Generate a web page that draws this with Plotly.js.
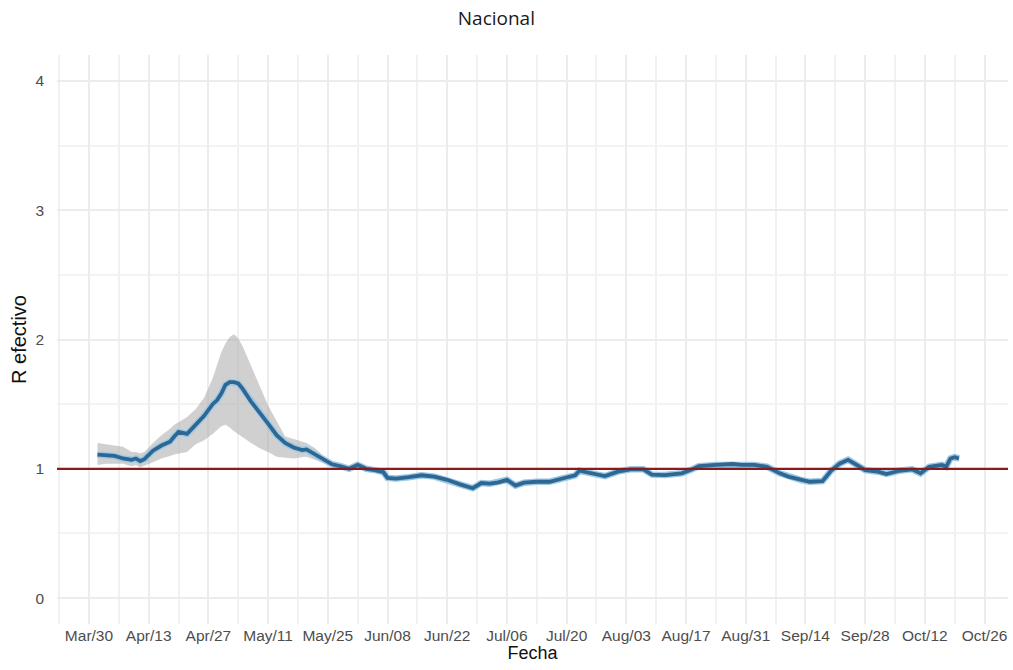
<!DOCTYPE html>
<html>
<head>
<meta charset="utf-8">
<script src="https://cdn.plot.ly/plotly-3.0.1.min.js"></script>
<style>
  html, body { margin: 0; padding: 0; background: #ffffff; }
  #chart { width: 1013px; height: 670px; }
</style>
</head>
<body>
<div id="chart"></div>
<script>
// ---- Data ----
const fechas = [
  '2020-04-01','2020-04-03','2020-04-05','2020-04-07','2020-04-09','2020-04-10','2020-04-11','2020-04-12',
  '2020-04-14','2020-04-16','2020-04-18','2020-04-19','2020-04-20','2020-04-22','2020-04-24','2020-04-26',
  '2020-04-28','2020-04-29','2020-04-30','2020-05-01','2020-05-02','2020-05-03','2020-05-04','2020-05-05',
  '2020-05-07','2020-05-09','2020-05-11','2020-05-13','2020-05-15','2020-05-17','2020-05-19','2020-05-20',
  '2020-05-22','2020-05-24','2020-05-26','2020-05-28',
  '2020-05-30','2020-06-01','2020-06-03','2020-06-05','2020-06-07','2020-06-08','2020-06-10','2020-06-13',
  '2020-06-16','2020-06-19','2020-06-22','2020-06-25','2020-06-28','2020-06-30','2020-07-02','2020-07-04',
  '2020-07-06','2020-07-08','2020-07-10','2020-07-13','2020-07-16','2020-07-19','2020-07-22','2020-07-23',
  '2020-07-26','2020-07-29','2020-08-01','2020-08-04','2020-08-07','2020-08-09','2020-08-12','2020-08-16',
  '2020-08-18','2020-08-20','2020-08-24','2020-08-28','2020-08-30','2020-09-02','2020-09-05','2020-09-08',
  '2020-09-10','2020-09-13','2020-09-15','2020-09-18','2020-09-20','2020-09-22','2020-09-24','2020-09-26',
  '2020-09-28','2020-10-01','2020-10-03','2020-10-06','2020-10-09','2020-10-11','2020-10-13','2020-10-16',
  '2020-10-17','2020-10-18','2020-10-19','2020-10-20'
];

const rEfectivo = [
  1.11,1.105,1.10,1.08,1.07,1.08,1.06,1.075,
  1.14,1.18,1.21,1.25,1.285,1.27,1.34,1.41,
  1.50,1.53,1.58,1.65,1.67,1.67,1.66,1.62,
  1.52,1.44,1.35,1.26,1.20,1.165,1.145,1.15,
  1.11,1.075,1.035,1.02,
  1.00,1.03,1.00,0.99,0.975,0.93,0.925,0.935,
  0.95,0.94,0.915,0.88,0.85,0.89,0.885,0.895,
  0.915,0.87,0.893,0.90,0.90,0.925,0.95,0.985,
  0.965,0.944,0.978,0.996,0.996,0.955,0.952,0.965,
  0.99,1.02,1.03,1.037,1.03,1.03,1.016,0.965,
  0.94,0.913,0.90,0.905,0.985,1.04,1.07,1.03,
  0.99,0.978,0.96,0.985,0.996,0.965,1.016,1.03,
  1.016,1.08,1.09,1.08
];

const rInferior = [
  1.03,1.04,1.04,1.04,1.02,1.03,1.01,1.02,
  1.05,1.08,1.10,1.11,1.12,1.13,1.19,1.22,
  1.27,1.30,1.33,1.34,1.32,1.29,1.27,1.245,
  1.20,1.16,1.13,1.094,1.085,1.08,1.09,1.094,
  1.07,1.045,1.015,1.00,
  0.98,1.01,0.98,0.97,0.955,0.91,0.905,0.915,
  0.93,0.92,0.895,0.86,0.83,0.87,0.865,0.875,
  0.895,0.85,0.873,0.88,0.88,0.905,0.93,0.965,
  0.945,0.924,0.958,0.976,0.976,0.935,0.932,0.945,
  0.97,1.00,1.01,1.017,1.01,1.01,0.996,0.945,
  0.92,0.893,0.88,0.885,0.965,1.02,1.05,1.01,
  0.97,0.958,0.94,0.965,0.976,0.945,0.996,1.01,
  0.996,1.055,1.065,1.055
];

const rSuperior = [
  1.20,1.19,1.18,1.17,1.13,1.13,1.12,1.13,
  1.20,1.26,1.31,1.34,1.36,1.40,1.46,1.55,
  1.70,1.80,1.90,1.97,2.02,2.04,2.01,1.95,
  1.80,1.64,1.49,1.37,1.25,1.23,1.21,1.20,
  1.16,1.10,1.06,1.04,
  1.02,1.05,1.02,1.01,0.995,0.95,0.945,0.955,
  0.97,0.96,0.935,0.90,0.87,0.91,0.905,0.915,
  0.935,0.89,0.913,0.92,0.92,0.945,0.97,1.005,
  0.985,0.964,0.998,1.016,1.016,0.975,0.972,0.985,
  1.01,1.04,1.05,1.057,1.05,1.05,1.036,0.985,
  0.96,0.933,0.92,0.925,1.005,1.06,1.09,1.05,
  1.01,0.998,0.98,1.005,1.016,0.985,1.036,1.05,
  1.036,1.105,1.115,1.105
];

const umbral = 1;
const yTicks = [0, 1, 2, 3, 4];
const xTick0 = '2020-03-30';

// ---- Traces ----
const bandX = fechas.concat(fechas.slice().reverse());
const bandY = rSuperior.concat(rInferior.slice().reverse());

const traces = [
  {
    x: bandX, y: bandY, type: 'scatter', mode: 'lines',
    fill: 'toself', fillcolor: 'rgba(170,170,170,0.55)',
    line: { width: 0, color: 'rgba(0,0,0,0)' },
    hoverinfo: 'skip', showlegend: false
  },
  {
    x: fechas, y: rEfectivo, type: 'scatter', mode: 'lines',
    line: { color: '#9cc8e6', width: 6.5 },
    hoverinfo: 'skip', showlegend: false
  },
  {
    x: fechas, y: rEfectivo, type: 'scatter', mode: 'lines',
    line: { color: '#2d6792', width: 3.8 },
    showlegend: false
  }
];

const axisFont = 'Liberation Sans, Arial, sans-serif';

const layout = {
  width: 1013, height: 670,
  paper_bgcolor: '#ffffff', plot_bgcolor: '#ffffff',
  margin: { l: 57, r: 5, t: 55, b: 46 },
  title: {
    text: 'Nacional', x: 0.49, xanchor: 'center', y: 0.972, yanchor: 'middle',
    font: { family: 'Open Sans, sans-serif', size: 19, color: '#1a1a1a' }
  },
  xaxis: {
    type: 'date',
    range: ['2020-03-22 12:00', '2020-10-31 12:00'],
    tick0: xTick0, dtick: 14 * 86400000,
    tickformat: '%b/%d',
    showgrid: true, gridcolor: '#ececec', gridwidth: 2,
    minor: { dtick: 7 * 86400000, tick0: xTick0, showgrid: true, gridcolor: '#f1f1f1', gridwidth: 2 },
    zeroline: false, showline: false, ticks: '',
    tickfont: { family: axisFont, size: 15.5, color: '#4d4d4d' },
    title: { text: 'Fecha', standoff: 2, font: { family: axisFont, size: 18, color: '#111111' } }
  },
  yaxis: {
    range: [-0.2, 4.2],
    tickvals: yTicks,
    showgrid: true, gridcolor: '#ececec', gridwidth: 2,
    minor: { dtick: 0.5, showgrid: true, gridcolor: '#f3f3f3', gridwidth: 2 },
    zeroline: false, showline: false, ticks: '',
    ticklabelstandoff: 12,
    tickfont: { family: axisFont, size: 15.5, color: '#4d4d4d' },
    title: { text: 'R efectivo', standoff: 3, font: { family: axisFont, size: 20, color: '#111111' } }
  },
  shapes: [
    {
      type: 'line', xref: 'paper', yref: 'y', x0: 0, x1: 1, y0: umbral, y1: umbral,
      line: { color: '#8b1a1a', width: 2.2 }, layer: 'above'
    }
  ],
  showlegend: false
};

Plotly.newPlot('chart', traces, layout, { displayModeBar: false, staticPlot: true });
</script>
</body>
</html>
